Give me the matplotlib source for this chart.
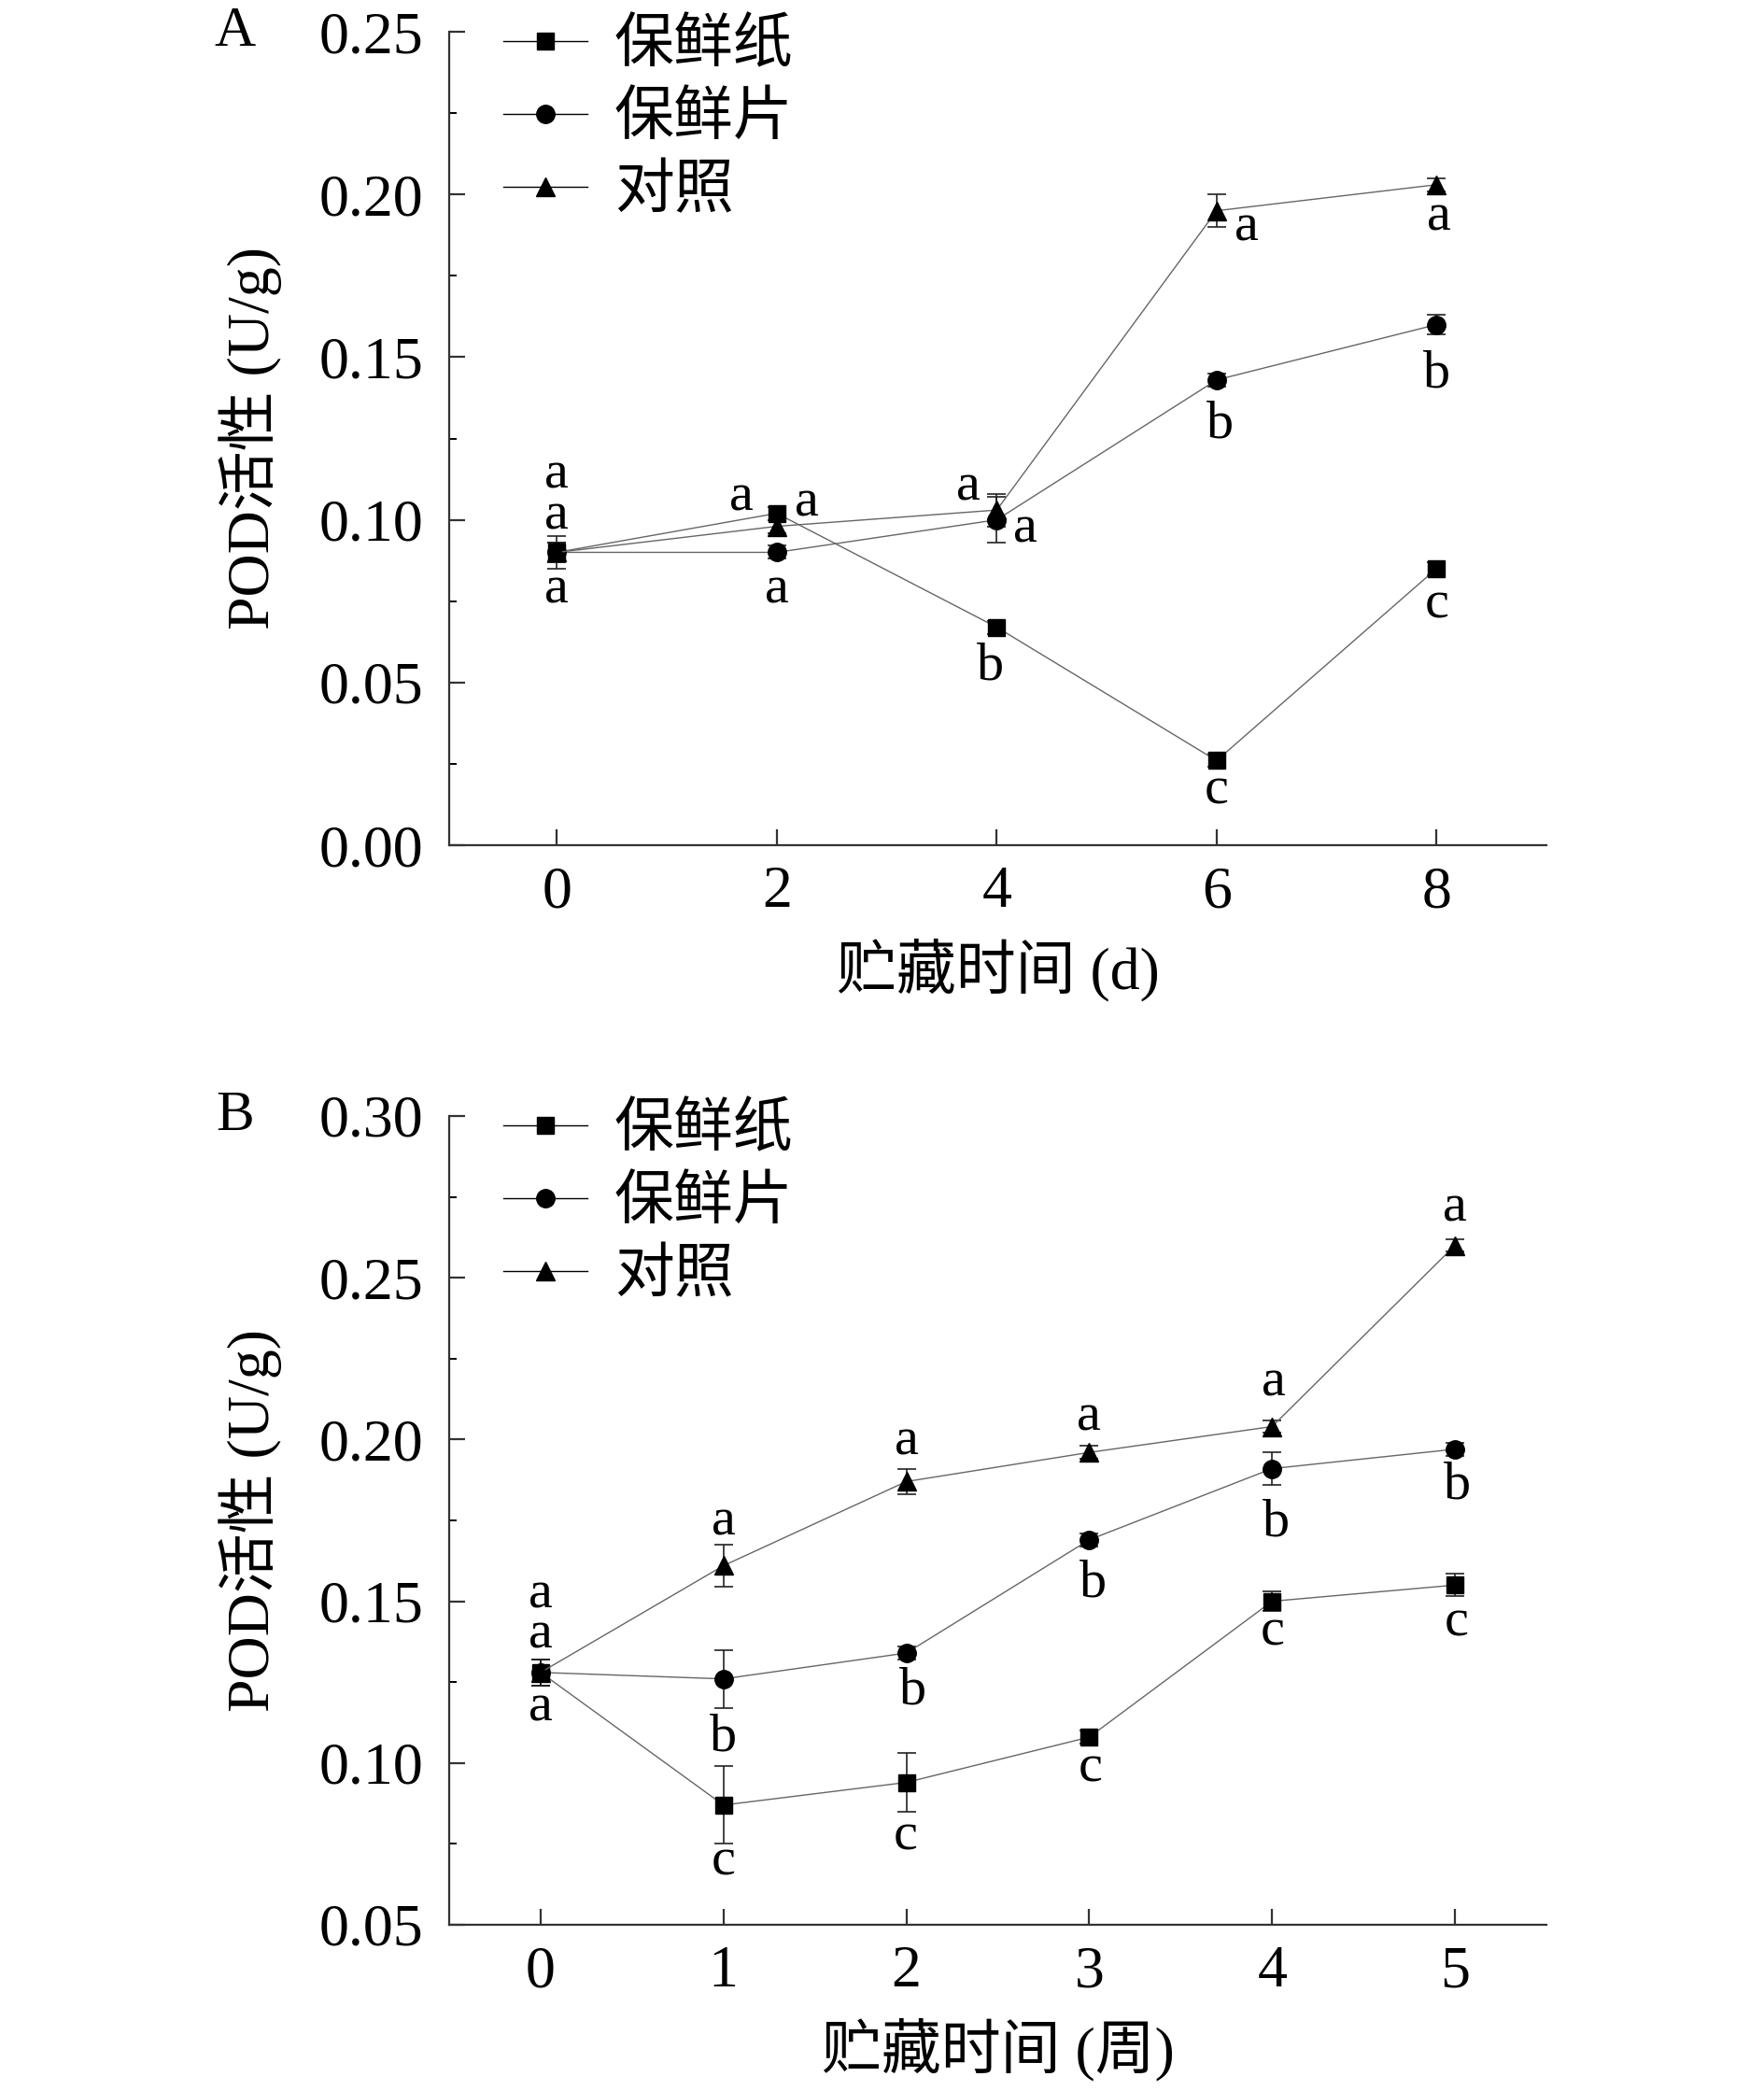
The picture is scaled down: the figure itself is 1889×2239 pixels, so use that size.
import matplotlib
matplotlib.use("Agg")
import matplotlib.pyplot as plt
from matplotlib.lines import Line2D
from matplotlib.ticker import MultipleLocator

plt.rcParams['font.family'] = ['Liberation Serif', 'Noto Sans CJK SC']
plt.rcParams['mathtext.fontset'] = 'stix'

series_names = ['保鲜纸', '保鲜片', '对照']
markers = ['s', 'o', '^']

# panel A: storage days
days_a = [0, 2, 4, 6, 8]
paper_a = [0.090, 0.102, 0.067, 0.026, 0.085]
sheet_a = [0.090, 0.090, 0.100, 0.143, 0.160]
ctrl_a = [0.090, 0.098, 0.103, 0.195, 0.203]
paper_a_err = [0.003, 0.002, 0.002, 0.002, 0.002]
sheet_a_err = [0.003, 0.002, 0.007, 0.002, 0.003]
ctrl_a_err = [0.005, 0.002, 0.005, 0.005, 0.002]
paper_a_sig = ['a', 'a', 'b', 'c', 'c']
sheet_a_sig = ['a', 'a', 'a', 'b', 'b']
ctrl_a_sig = ['a', 'a', 'a', 'a', 'a']

# panel B: storage weeks
weeks_b = [0, 1, 2, 3, 4, 5]
paper_b = [0.128, 0.087, 0.094, 0.108, 0.150, 0.155]
sheet_b = [0.128, 0.126, 0.134, 0.169, 0.191, 0.197]
ctrl_b = [0.128, 0.161, 0.187, 0.196, 0.204, 0.260]
paper_b_err = [0.004, 0.012, 0.009, 0.002, 0.003, 0.0035]
sheet_b_err = [0.004, 0.009, 0.002, 0.002, 0.005, 0.002]
ctrl_b_err = [0.004, 0.0065, 0.004, 0.002, 0.002, 0.002]
paper_b_sig = ['a', 'c', 'c', 'c', 'c', 'c']
sheet_b_sig = ['a', 'b', 'b', 'b', 'b', 'b']
ctrl_b_sig = ['a', 'a', 'a', 'a', 'a', 'a']

# letter offsets (points) relative to each marker
off_a = [
    [(0, 28), (-27, 12), (-5, -30), (0, -23), (0, -28)],
    [(0, -29), (0, -29), (22, -7), (3, -34), (0, -38)],
    [(0, 60), (23, 18), (-22, 18), (23, -13), (2, -25)],
]
off_b = [
    [(0, 29), (0, -44), (-1, -42), (1, -24), (0, -24), (1, -29)],
    [(0, -27), (0, -45), (5, -29), (3, -34), (3, -42), (2, -28)],
    [(0, 60), (0, 34), (0, 31), (0, 27), (1, 34), (0, 29)],
]

fig = plt.figure(figsize=(18.9, 22.39), dpi=100)
ax_a = fig.add_axes([0.2545, 0.5958, 0.6217, 0.389])
ax_b = fig.add_axes([0.2545, 0.0795, 0.6217, 0.3868])

fs = 46


def draw_panel(ax, x, ys, errs, sigs, offs, ylim, xlim, xlabel, tag):
    handles = []
    for i in range(3):
        ms = 13 if markers[i] == 's' else 14
        ax.errorbar(x, ys[i], yerr=errs[i], color='#666666', lw=1.0,
                    marker=markers[i], ms=ms,
                    mfc='black', mec='black', ecolor='#222222', elinewidth=1.2,
                    capsize=7, capthick=1.2, zorder=3)
        handles.append(Line2D([], [], color='black', lw=1.0, marker=markers[i],
                              ms=ms, mfc='black', mec='black',
                              label=series_names[i]))
        for j in range(len(x)):
            ax.annotate(sigs[i][j], (x[j], ys[i][j]), xytext=offs[i][j],
                        textcoords='offset points', ha='center', va='center',
                        fontsize=42, family='Liberation Serif')
    ax.set_xlim(*xlim)
    ax.set_ylim(*ylim)
    ax.set_xticks(x)
    ax.yaxis.set_major_locator(MultipleLocator(0.05))
    ax.yaxis.set_minor_locator(MultipleLocator(0.025))
    ax.yaxis.set_major_formatter(plt.FormatStrFormatter('%.2f'))
    for s in ['top', 'right']:
        ax.spines[s].set_visible(False)
    for s in ['left', 'bottom']:
        ax.spines[s].set_linewidth(1.6)
        ax.spines[s].set_color('#333333')
    ax.tick_params(axis='both', which='major', direction='in', length=12,
                   width=1.6, labelsize=fs, color='#333333')
    ax.tick_params(axis='y', which='major', pad=20)
    ax.tick_params(axis='x', which='major', pad=16)
    ax.tick_params(axis='y', which='minor', direction='in', length=6, width=1.4)
    ax.tick_params(axis='x', which='minor', length=0)
    ax.set_xlabel(xlabel, fontsize=fs, labelpad=14)
    ax.set_ylabel('POD活性 (U/g)', fontsize=fs, labelpad=28)
    ax.text(-0.195, 1.0, tag, transform=ax.transAxes, fontsize=44,
            ha='center', va='center')
    ax.legend(handles=handles, loc='upper left', bbox_to_anchor=(0.028, 1.045),
              frameon=False, fontsize=fs, handlelength=1.4, handletextpad=0.45,
              labelspacing=0.3, borderaxespad=0)


draw_panel(ax_a, days_a, [paper_a, sheet_a, ctrl_a],
           [paper_a_err, sheet_a_err, ctrl_a_err],
           [paper_a_sig, sheet_a_sig, ctrl_a_sig], off_a,
           (0, 0.25), (-0.98, 9.0), '贮藏时间 (d)', 'A')
draw_panel(ax_b, weeks_b, [paper_b, sheet_b, ctrl_b],
           [paper_b_err, sheet_b_err, ctrl_b_err],
           [paper_b_sig, sheet_b_sig, ctrl_b_sig], off_b,
           (0.05, 0.30), (-0.5, 5.5), '贮藏时间 (周)', 'B')

fig.savefig('out.png', dpi=100)
